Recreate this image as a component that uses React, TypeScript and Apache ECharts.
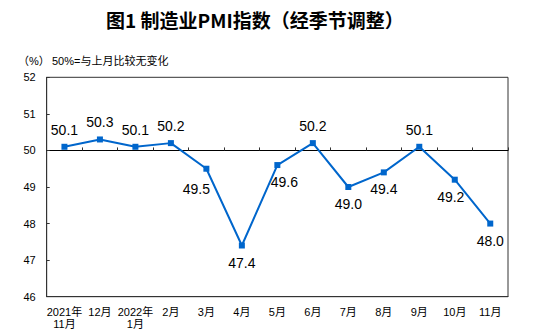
import React, { useEffect, useRef } from "react";
import * as echarts from "echarts";

const categories = [
  "2021年\n11月", "12月", "2022年\n1月", "2月", "3月", "4月", "5月",
  "6月", "7月", "8月", "9月", "10月", "11月",
];
const pmiValues = [50.1, 50.3, 50.1, 50.2, 49.5, 47.4, 49.6, 50.2, 49.0, 49.4, 50.1, 49.2, 48.0];
const yTicks = [46, 47, 48, 49, 50, 51, 52];
const titleText = "图1 制造业PMI指数（经季节调整）";
const unitText = "（%）";
const noteText = "50%=与上月比较无变化";
const threshold = 50;

const FONT = "'Liberation Sans', 'Noto Sans CJK SC', sans-serif";

export default function App() {
  const ref = useRef<HTMLDivElement>(null);
  useEffect(() => {
    if (!ref.current) return;
    const chart = echarts.init(ref.current, null, { renderer: "svg" });
    const gridTop = 77.3;
    const gridBottom = 38.3;
    const gridH = 335 - gridTop - gridBottom;
    const yMin = yTicks[0];
    const yMax = yTicks[yTicks.length - 1];
    const lineOffset = -((threshold - yMin) / (yMax - yMin)) * gridH;
    // small label nudges (style only)
    const nudges: Record<number, [number, number]> = { 4: [-10, 3], 6: [7, 0], 11: [-4, 0] };
    const data = pmiValues.map((v, i) => {
      const above = v >= threshold;
      const n = nudges[i] || [0, 0];
      return {
        value: v,
        label: {
          position: above ? "top" : "bottom",
          offset: n,
        },
      };
    });
    chart.setOption({
      animation: false,
      backgroundColor: "#fff",
      title: {
        text: titleText,
        left: 101,
        top: 5,
        textStyle: {
          fontSize: 19,
          fontWeight: "bold",
          color: "#000",
          fontFamily: "'Noto Sans CJK SC', sans-serif",
        },
      },
      graphic: [
        {
          type: "text",
          left: 18,
          top: 55,
          style: { text: unitText, fontSize: 11, fill: "#000", fontFamily: FONT },
        },
        {
          type: "text",
          left: 52,
          top: 55,
          style: { text: noteText, fontSize: 11, fill: "#000", fontFamily: FONT },
        },
      ],
      grid: {
        left: 46.7,
        right: 38,
        top: gridTop,
        bottom: gridBottom,
        show: true,
        borderColor: "#333",
        borderWidth: 1,
        backgroundColor: "transparent",
      },
      xAxis: [
        {
          type: "category",
          data: categories,
          boundaryGap: true,
          axisLine: { show: true, lineStyle: { color: "#333", width: 1 } },
          axisTick: { show: false },
          axisLabel: {
            interval: 0,
            margin: 9,
            fontSize: 11,
            lineHeight: 12,
            color: "#000",
            fontFamily: FONT,
          },
        },
        {
          type: "category",
          data: categories,
          position: "bottom",
          offset: lineOffset,
          boundaryGap: true,
          axisLine: { show: true, lineStyle: { color: "#000", width: 1 } },
          axisTick: { show: true, inside: true, length: 3, interval: 0, lineStyle: { color: "#333" } },
          axisLabel: { show: false },
        },
      ],
      yAxis: {
        type: "value",
        min: yMin,
        max: yMax,
        interval: 1,
        axisLine: { show: true, lineStyle: { color: "#333", width: 1 } },
        axisTick: { show: true, inside: true, length: 3, lineStyle: { color: "#333" } },
        splitLine: { show: false },
        axisLabel: { margin: 11, fontSize: 11, color: "#000", fontFamily: FONT },
      },
      series: [
        {
          type: "line",
          data,
          symbol: "rect",
          symbolSize: 6,
          lineStyle: { color: "#0066cc", width: 2 },
          itemStyle: { color: "#0066cc" },
          label: {
            show: true,
            distance: 7,
            fontSize: 14,
            color: "#000",
            fontFamily: FONT,
            formatter: (p: any) => Number(p.value).toFixed(1),
          },
        },
      ],
    });
    return () => chart.dispose();
  }, []);
  return (
    <div
      ref={ref}
      style={{ position: "fixed", left: 0, top: 0, width: 546, height: 335 }}
    />
  );
}
